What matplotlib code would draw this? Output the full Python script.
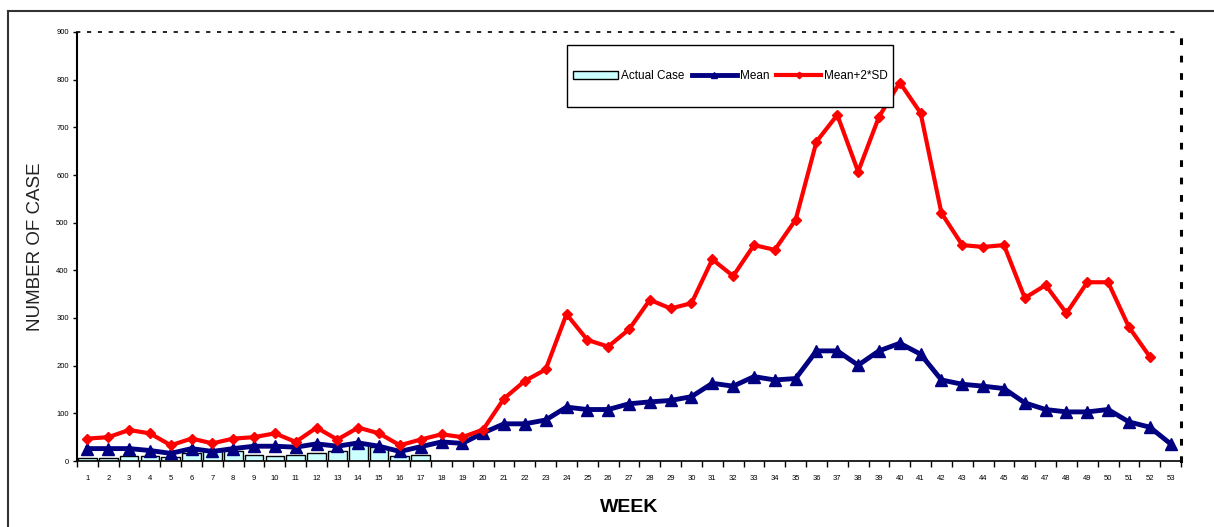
import matplotlib
matplotlib.use("Agg")
import matplotlib.pyplot as plt
from matplotlib.lines import Line2D
from matplotlib.patches import Rectangle
import numpy as np

weeks = list(range(1, 54))
actual_case = [7, 6, 10, 10, 9, 17, 22, 20, 13, 10, 13, 17, 20, 36, 29, 10, 13]
mean = [26, 26, 26, 22, 16, 26, 20, 26, 31, 31, 29, 36, 31, 38, 31, 20, 30, 40, 37, 59,
        78, 78, 86, 113, 108, 108, 120, 124, 127, 135, 163, 157, 177, 170, 173, 231, 231, 201, 231, 247,
        224, 170, 161, 157, 152, 122, 108, 103, 103, 108, 82, 71, 36]
mean_2sd = [47, 50, 65, 58, 33, 47, 37, 47, 50, 58, 40, 70, 45, 70, 58, 33, 45, 56, 50, 66,
            131, 168, 192, 308, 254, 240, 276, 338, 320, 331, 423, 388, 453, 443, 506, 670, 726, 607, 722, 794,
            730, 520, 453, 449, 453, 342, 369, 310, 375, 375, 281, 219]
yticks = [0, 100, 200, 300, 400, 500, 600, 700, 800, 900]

plt.rcParams['font.family'] = ['Liberation Sans', 'DejaVu Sans']

fig = plt.figure(figsize=(12.14, 5.27), dpi=100)
ax = fig.add_axes([77/1214, 1-461/527, (1181-77)/1214, (461-32)/527])

h_bar = ax.bar(weeks[:len(actual_case)], actual_case, width=0.9, color='#CCFFFF',
               edgecolor='black', linewidth=1, label='Actual Case', zorder=2)
h_mean, = ax.plot(weeks[:len(mean)], mean, color='#000080', lw=3.5, marker='^', ms=8,
                  label='Mean', zorder=3)
h_sd, = ax.plot(weeks[:len(mean_2sd)], mean_2sd, color='#FF0000', lw=3, marker='D', ms=5.5,
                label='Mean+2*SD', zorder=4)

ax.set_xlim(0.5, 53.5)
ax.set_ylim(0, 900)
ax.set_xticks(weeks)
ax.set_xticklabels([str(w) for w in weeks], fontsize=5.5)
ax.set_xticks(np.arange(0.5, 54, 1), minor=True)
ax.tick_params(axis='x', which='major', length=0, pad=10)
ax.tick_params(axis='x', which='minor', length=4, width=1, direction='out')
ax.set_yticks(yticks)
ax.set_yticklabels([str(v) for v in yticks], fontsize=5.5)
ax.tick_params(axis='y', length=3, width=1, direction='out', pad=3)

ax.spines['bottom'].set_linewidth(1.2)
ax.spines['left'].set_linestyle((0, (2.5, 1)))
ax.spines['left'].set_linewidth(1.5)
ax.spines['top'].set_linestyle((0, (1.5, 5)))
ax.spines['top'].set_linewidth(1.2)
ax.spines['right'].set_linestyle((0, (1.2, 4.5)))
ax.spines['right'].set_linewidth(2.2)

ax.set_ylabel('NUMBER OF CASE', fontsize=13.5, color='#222222')
ax.set_xlabel('WEEK', fontsize=14, fontweight='bold', labelpad=12)
ax.yaxis.set_label_coords(-0.03, 0.5)

# legend frame drawn separately
x0 = (567 - 77) / 1104
x1 = (893 - 77) / 1104
y0 = (461 - 107) / 429
y1 = (461 - 45) / 429
ax.add_patch(Rectangle((x0, y0), x1 - x0, y1 - y0, transform=ax.transAxes,
                       facecolor='white', edgecolor='black', lw=1, zorder=5))
leg = ax.legend([h_bar, h_mean, h_sd], ['Actual Case', 'Mean', 'Mean+2*SD'],
                loc='center', bbox_to_anchor=(0.592, 0.8974), ncol=3, fontsize=8.5,
                frameon=False, borderpad=0, handlelength=3.8, handletextpad=0.25,
                columnspacing=0.6, markerscale=0.6)
leg.set_zorder(6)

fig.add_artist(Line2D([8/1214, 1.0], [1-11/527, 1-11/527], color='#333333', lw=1.5,
                      transform=fig.transFigure))
fig.add_artist(Line2D([8/1214, 8/1214], [0, 1-11/527], color='#333333', lw=1.5,
                      transform=fig.transFigure))

fig.savefig('out.png', dpi=100)
